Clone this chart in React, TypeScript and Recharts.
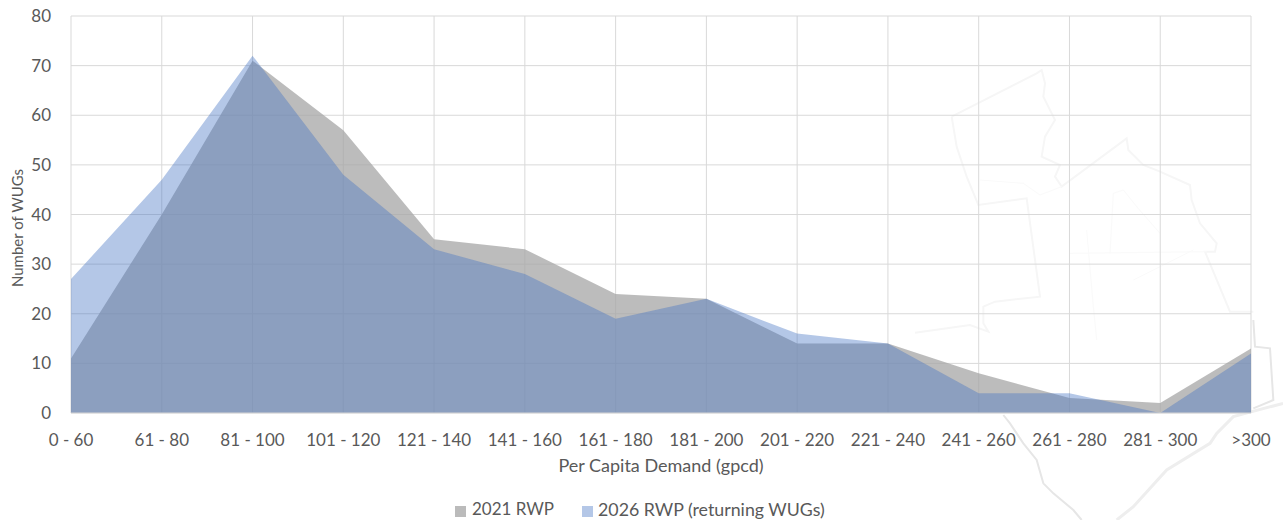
import React from "react";
import { AreaChart, Area, XAxis, YAxis, CartesianGrid, Legend } from "recharts";

const categories = ["0 - 60","61 - 80","81 - 100","101 - 120","121 - 140","141 - 160","161 - 180","181 - 200","201 - 220","221 - 240","241 - 260","261 - 280","281 - 300",">300"];
const rwp2021 = [11,40,71,57,35,33,24,23,14,14,8,3,2,13];
const rwp2026 = [27,47,72,48,33,28,19,23,16,14,4,4,0,12];
const yTicks = [0,10,20,30,40,50,60,70,80];
const rows = categories.map((c, i) => ({ c, a: rwp2021[i], b: rwp2026[i] }));
const font = "Lato, 'Open Sans', sans-serif";
const txt = "#595959";

// faint decorative map behind the chart
const z4 = (p: number[][]) => p.map(([x, y]) => `${880 + x / 3},${40 + y / 3}`).join(" ");
const z2 = (p: number[][]) => p.map(([x, y]) => `${900 + x / 3},${320 + y / 3}`).join(" ");
const mapUpper = [
  [[215,230],[470,100],[485,90],[495,130],[490,170],[525,240],[495,290],[485,350],[540,375],[525,410],[545,440],[740,295],[745,330],[790,375],[840,395],[930,435],[935,480],[960,550],[1010,610],[1005,635],[975,635],[1050,815],[1120,815]],
  [[215,230],[230,320],[260,410],[295,495],[440,475],[480,770],[345,785],[310,800],[310,850],[325,875],[270,855],[105,878]],
  [[545,440],[480,465],[430,430],[300,420]],
  [[690,640],[700,460],[730,450],[770,500],[840,580]],
  [[620,570],[640,800],[650,900]],
  [[570,640],[980,635]],
  [[760,720],[940,630]],
];
const mapLower = [
  [[1060,0],[1065,80],[1110,85],[1120,240],[1060,265]],
  [[310,285],[330,310],[370,370],[410,420],[430,490],[460,520],[520,570],[545,600]],
  [[1149,250],[1000,290],[950,340],[930,370],[800,450],[700,560],[650,600]],
];

function Backdrop() {
  return (
    <svg width={1283} height={520} style={{ position: "absolute", left: 0, top: 0 }}>
      {mapUpper.map((p, i) => <polyline key={i} points={z4(p)} fill="none" stroke={i < 2 ? "#f6f6f6" : "#fafafa"} strokeWidth={i < 2 ? 2 : 1} />)}
      {mapLower.map((p, i) => <polyline key={i} points={z2(p)} fill="none" stroke={i === 2 ? "#eeeeee" : "#e6e6e6"} strokeWidth={i === 2 ? 3 : 2} />)}
    </svg>
  );
}

function LegendBox() {
  return (
    <div style={{ position: "absolute", left: 455, top: 499, display: "flex", fontFamily: font, lineHeight: "20px", color: txt, whiteSpace: "nowrap" }}>
      <span style={{ width: 11, height: 11, marginTop: 7, marginRight: 6, background: "#bbbbbb" }} />
      <span style={{ width: 110, fontSize: 17 }}>2021 RWP</span>
      <span style={{ width: 11, height: 11, marginTop: 7, marginRight: 5, background: "#b4c7e7" }} />
      <span style={{ fontSize: 17.8 }}>2026 RWP (returning WUGs)</span>
    </div>
  );
}

const YTitle = () => (
  <text transform="translate(17,228) rotate(-90)" textAnchor="middle" dominantBaseline="central" fill={txt} fontSize={15}>Number of WUGs</text>
);

export default function App() {
  return (
    <div style={{ position: "absolute", left: 0, top: 0, width: 1283, height: 520, overflow: "hidden" }}>
      <Backdrop />
      <AreaChart width={1283} height={520} data={rows} margin={{ top: 16, right: 32, bottom: 77, left: 31 }} style={{ fontFamily: font }}>
        <CartesianGrid stroke="#d9d9d9" strokeWidth={1} />
        <XAxis dataKey="c" interval={0} tickLine={false} axisLine={{ stroke: "#d9d9d9" }} tick={{ fill: txt, fontSize: 17 }} tickMargin={15}
          label={{ value: "Per Capita Demand (gpcd)", position: "insideBottom", offset: -29, fill: txt, fontSize: 18 }} />
        <YAxis width={40} domain={[0, 80]} ticks={yTicks} interval={0} tickLine={false} axisLine={false} tick={{ fill: txt, fontSize: 17 }} tickMargin={14}
          label={{ content: <YTitle /> }} />
        <Area dataKey="a" name="2021 RWP" type="linear" stroke="none" fill="#a5a5a5" fillOpacity={0.75} isAnimationActive={false} />
        <Area dataKey="b" name="2026 RWP (returning WUGs)" type="linear" stroke="none" fill="#4472c4" fillOpacity={0.4} isAnimationActive={false} />
        <Legend content={<LegendBox />} height={0} wrapperStyle={{ position: "absolute", left: 0, top: 0, width: 0, height: 0 }} />
      </AreaChart>
    </div>
  );
}
